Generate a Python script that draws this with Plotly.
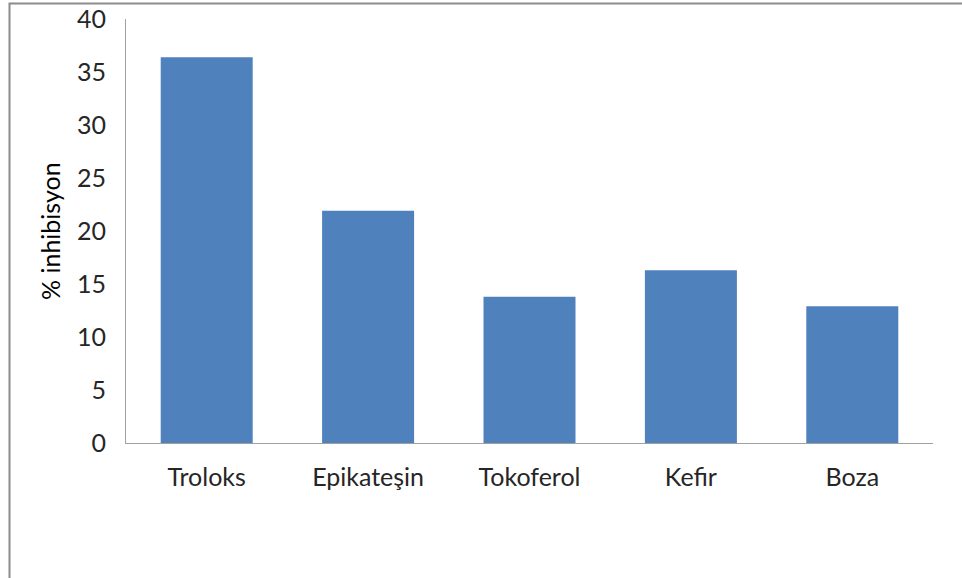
import plotly.graph_objects as go

# Antioxidant inhibition by sample
categories = ["Troloks", "Epikateşin", "Tokoferol", "Kefir", "Boza"]
inhibition = [36.4, 21.9, 13.8, 16.3, 12.9]
y_ticks = [0, 5, 10, 15, 20, 25, 30, 35, 40]

W, H = 962, 578
L, R, T, B = 126, 29, 19, 135
pw, ph = W - L - R, H - T - B

font = dict(family="Lato, Carlito, 'Liberation Sans', sans-serif", size=25, color="#262626")

fig = go.Figure(
    go.Bar(
        x=categories,
        y=inhibition,
        marker=dict(color="#4F81BD", line=dict(width=0)),
    )
)

fig.update_layout(
    width=W,
    height=H,
    margin=dict(l=L, r=R, t=T, b=B, autoexpand=False),
    paper_bgcolor="white",
    plot_bgcolor="white",
    bargap=0.43,
    showlegend=False,
    font=font,
    xaxis=dict(
        showline=True,
        linecolor="#A0A0A0",
        linewidth=1,
        ticks="",
        ticklabelstandoff=12,
        tickfont=font,
        showgrid=False,
    ),
    yaxis=dict(
        range=[0, 40],
        tickvals=y_ticks,
        showline=True,
        linecolor="#A0A0A0",
        linewidth=1,
        ticks="",
        ticklabelstandoff=14,
        tickfont=font,
        showgrid=False,
        zeroline=False,
    ),
    annotations=[
        dict(
            text="% inhibisyon",
            xref="paper",
            yref="paper",
            x=(50 - L) / pw,
            y=0.5,
            xanchor="center",
            yanchor="middle",
            textangle=-90,
            showarrow=False,
            font=dict(family=font["family"], size=25, color="#000000"),
        )
    ],
    shapes=[
        # outer chart frame (left and top edges visible)
        dict(
            type="rect",
            xref="paper",
            yref="paper",
            x0=(9.5 - L) / pw,
            x1=(W + 20 - L) / pw,
            y0=-(H + 20 - (H - B)) / ph,
            y1=(H - B - 3.5) / ph,
            line=dict(color="#8C8C8C", width=2),
            fillcolor="rgba(0,0,0,0)",
            layer="below",
        )
    ],
)

fig.write_html("out.html")
